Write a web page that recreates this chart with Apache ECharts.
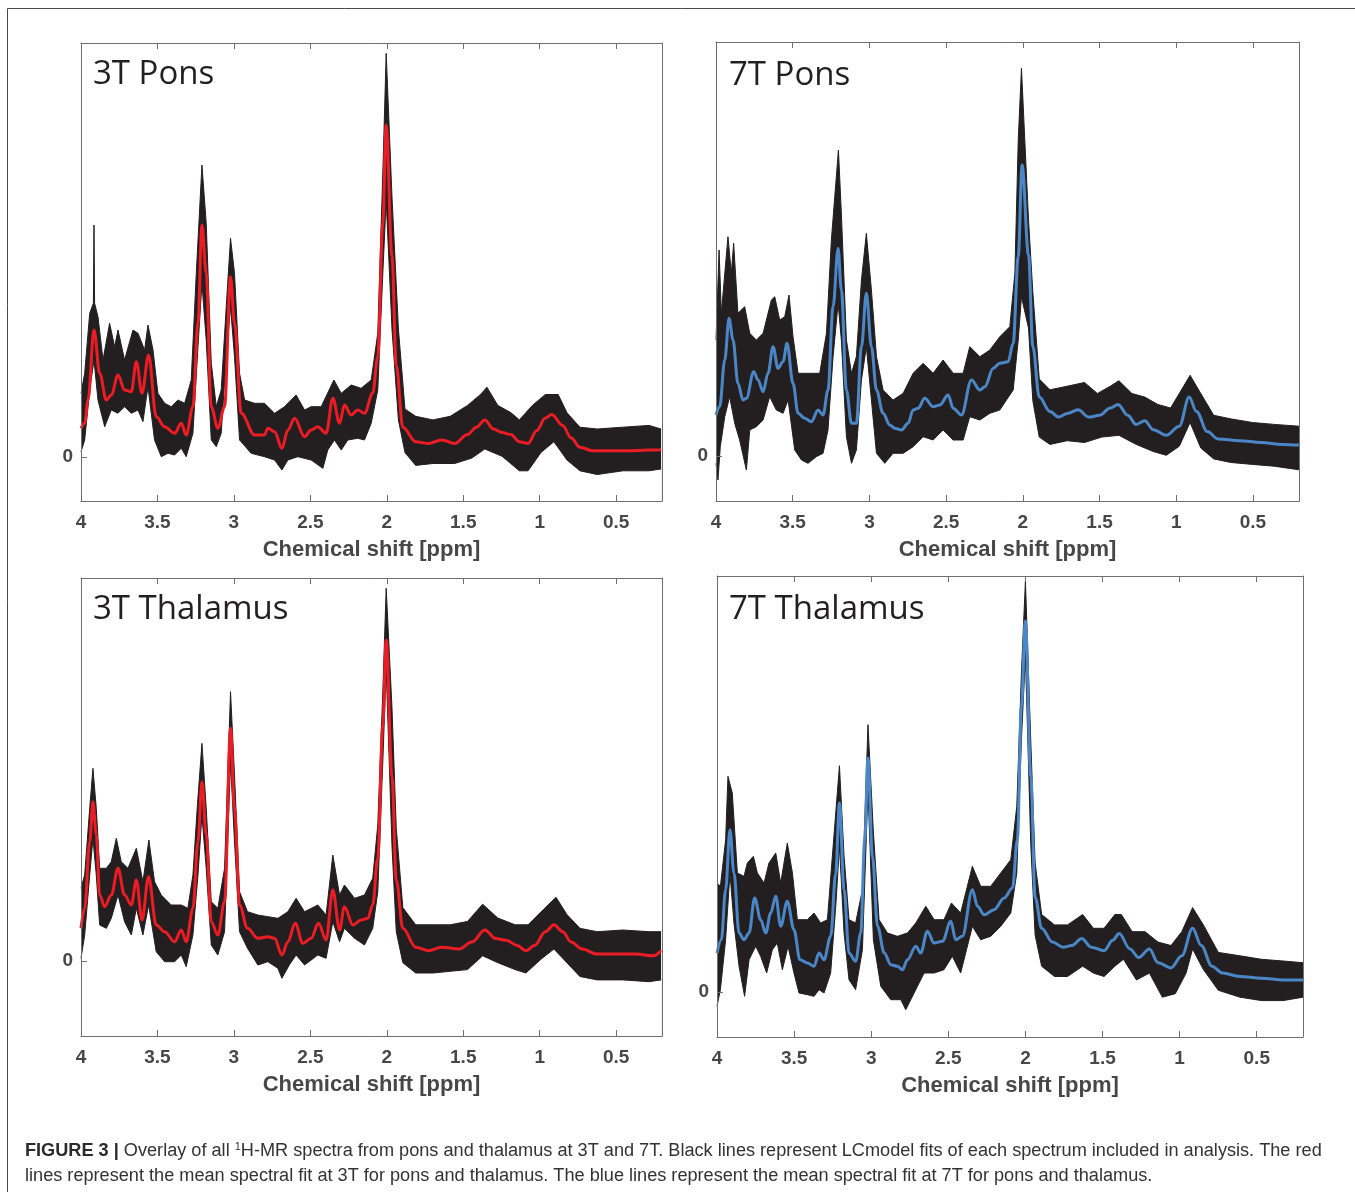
<!DOCTYPE html>
<html>
<head>
<meta charset="utf-8">
<script src="https://cdn.jsdelivr.net/npm/echarts@6/dist/echarts.min.js"></script>
<style>
html,body{margin:0;padding:0;background:#fff;}
#c{width:1355px;height:1192px;}
</style>
</head>
<body>
<div id="c"></div>
<script>
// ---------- DATA (ppm, intensity in arbitrary units) ----------
const X_TICKS = [4, 3.5, 3, 2.5, 2, 1.5, 1, 0.5];
const TITLES = ['3T Pons', '7T Pons', '3T Thalamus', '7T Thalamus'];
const AXIS_NAME = 'Chemical shift [ppm]';

// 3T Pons
const P1_MEAN = [[4.00,28.7],[3.976,33.7],[3.954,57],[3.915,127],[3.878,83.7],[3.834,57],[3.802,62],[3.758,82],[3.715,67],[3.671,65.3],[3.638,95.3],[3.601,63.7],[3.558,102],[3.508,40.3],[3.453,30.3],[3.388,23.7],[3.344,33.7],[3.312,22],[3.268,50.3],[3.235,133.7],[3.209,232],[3.181,183.7],[3.148,50.3],[3.105,28.7],[3.061,50.3],[3.022,180.3],[2.996,133.7],[2.952,43.7],[2.865,22],[2.800,22],[2.778,28.7],[2.734,25.3],[2.686,8.7],[2.647,27],[2.603,38.7],[2.538,20.3],[2.495,27],[2.451,30.3],[2.397,23.7],[2.353,58.7],[2.309,33.7],[2.277,52],[2.233,42],[2.190,47],[2.146,43.7],[2.092,63.7],[2.059,100.3],[2.026,233.7],[2.004,332],[1.966,200.7],[1.938,91.6],[1.895,29.8],[1.811,15.3],[1.726,13.5],[1.641,17.1],[1.556,13.5],[1.472,22.5],[1.415,29.8],[1.359,37.1],[1.302,28],[1.246,24.4],[1.189,22.5],[1.133,15.3],[1.076,13.5],[1.020,26.2],[0.963,38.9],[0.921,42.5],[0.850,31.6],[0.794,18.9],[0.737,9.8],[0.653,6.2],[0.568,6.2],[0.427,6.2],[0.285,6.9],[0.206,7.3]];
const P1_UP = [[4.00,63.7],[3.976,83.7],[3.943,143.7],[3.919,153.7],[3.915,232],[3.911,153.7],[3.889,140.3],[3.856,97],[3.813,133.7],[3.780,110.3],[3.758,127],[3.715,97],[3.660,127],[3.627,123.7],[3.584,107],[3.562,132],[3.529,107],[3.497,63.7],[3.453,53.7],[3.410,50.3],[3.366,57],[3.322,53.7],[3.279,77],[3.246,183.7],[3.209,292],[3.181,233.7],[3.148,93.7],[3.115,50.3],[3.083,67],[3.050,150.3],[3.022,218.7],[2.996,183.7],[2.963,83.7],[2.930,57],[2.865,53.7],[2.800,53.7],[2.734,43.7],[2.669,50.3],[2.593,62],[2.538,47],[2.495,50.3],[2.429,50.3],[2.346,77],[2.298,63.7],[2.233,72],[2.168,68.7],[2.102,77],[2.059,123.7],[2.026,283.7],[2.004,403.7],[1.966,260],[1.924,128],[1.881,48],[1.811,40.7],[1.698,37.1],[1.585,40.7],[1.472,51.6],[1.387,62.5],[1.345,69.8],[1.274,51.6],[1.189,44.4],[1.133,37.1],[1.048,51.6],[0.963,62.5],[0.879,62.5],[0.822,44.4],[0.737,29.8],[0.624,28],[0.455,29.8],[0.285,31.6],[0.206,28]];
const P1_LO = [[4.00,5.3],[3.976,17],[3.943,67],[3.915,97],[3.889,57],[3.845,30.3],[3.802,47],[3.758,43.7],[3.715,50.3],[3.671,43.7],[3.627,47],[3.595,35.3],[3.562,70.3],[3.519,17],[3.475,0.3],[3.431,3.7],[3.388,2],[3.344,8.7],[3.312,0.3],[3.268,23.7],[3.235,110.3],[3.209,173.7],[3.181,117],[3.148,17],[3.115,10.3],[3.083,23.7],[3.050,100.3],[3.022,150.3],[2.996,100.3],[2.963,17],[2.887,3.7],[2.800,0.3],[2.734,-3],[2.686,-13],[2.647,-3],[2.582,0.3],[2.495,-3],[2.418,-11.3],[2.386,7],[2.342,17],[2.298,7],[2.255,17],[2.190,18.7],[2.146,17],[2.102,33.7],[2.059,67],[2.026,183.7],[2.004,257],[1.966,128],[1.924,37.1],[1.881,4.4],[1.811,-8.4],[1.698,-6.5],[1.556,-6.5],[1.444,-1.1],[1.359,8],[1.246,0.7],[1.133,-13.8],[1.076,-13.8],[0.992,4.4],[0.907,15.3],[0.822,-2.9],[0.737,-13.8],[0.624,-17.5],[0.455,-13.8],[0.285,-13.8],[0.206,-12]];

// 7T Pons
const P2_MEAN = [[4.00,41],[3.976,49.3],[3.943,96],[3.915,137.7],[3.889,116],[3.857,72.7],[3.824,56],[3.802,57.7],[3.754,84.3],[3.726,76],[3.693,64.3],[3.661,82.7],[3.628,109.3],[3.596,87.7],[3.563,94.3],[3.537,112.7],[3.498,72.7],[3.465,42.7],[3.422,37.7],[3.378,34.3],[3.335,46],[3.302,41],[3.270,66],[3.237,149.3],[3.204,207.7],[3.183,166],[3.150,66],[3.117,32.7],[3.085,32.7],[3.052,109.3],[3.020,162.7],[2.987,109.3],[2.954,66],[2.911,42.7],[2.867,31],[2.835,27.7],[2.791,26],[2.748,32.7],[2.715,46],[2.683,47.7],[2.639,57.7],[2.585,49.3],[2.541,51],[2.487,61],[2.454,47.7],[2.400,41],[2.335,76],[2.280,66],[2.248,69.3],[2.193,87.7],[2.150,92.7],[2.096,94.3],[2.063,112.7],[2.030,199.3],[2.005,291],[1.963,200.7],[1.935,109.8],[1.893,58.9],[1.823,44.4],[1.767,38.9],[1.711,42.5],[1.640,46.2],[1.570,38.9],[1.500,40.7],[1.430,48],[1.379,51.6],[1.317,40.7],[1.261,31.6],[1.205,35.3],[1.149,26.2],[1.065,20.7],[0.980,29.8],[0.916,58.9],[0.868,44.4],[0.798,24.4],[0.728,17.1],[0.587,15.3],[0.447,13.5],[0.306,11.6],[0.200,10.9]];
const P2_UP = [[4.00,116],[3.980,206],[3.965,142.7],[3.922,219.3],[3.900,182.7],[3.885,212.7],[3.857,142.7],[3.813,149.3],[3.780,122.7],[3.737,116],[3.693,122.7],[3.639,156],[3.617,159.3],[3.585,136],[3.552,139.3],[3.524,161],[3.498,119.3],[3.465,82.7],[3.378,82.7],[3.324,82.7],[3.280,122.7],[3.248,216],[3.202,306],[3.183,242.7],[3.150,116],[3.117,82.7],[3.085,99.3],[3.052,176],[3.020,222.7],[2.987,166],[2.954,99.3],[2.911,66],[2.846,56],[2.780,62.7],[2.715,82.7],[2.650,92.7],[2.585,82.7],[2.520,96],[2.454,82.7],[2.389,82.7],[2.346,109.3],[2.280,99.3],[2.215,106],[2.150,119.3],[2.085,129.3],[2.052,182.7],[2.030,316],[2.009,387.7],[1.963,236],[1.935,164],[1.893,77],[1.823,66.2],[1.711,69.8],[1.598,73.5],[1.514,62.5],[1.430,69.8],[1.374,75.3],[1.289,62.5],[1.205,58.9],[1.121,51.6],[1.037,48],[0.952,69.8],[0.910,80.7],[0.840,62.5],[0.756,40.7],[0.643,37.1],[0.503,33.5],[0.362,31.6],[0.200,29.8]];
const P2_LO = [[4.00,-7.3],[3.987,-24],[3.972,9.3],[3.943,39.3],[3.911,59.3],[3.878,32.7],[3.846,16],[3.802,-14],[3.780,26],[3.737,29.3],[3.693,36],[3.650,59.3],[3.607,46],[3.563,42.7],[3.530,56],[3.487,6],[3.443,-4],[3.400,-7.3],[3.346,-0.7],[3.302,2.7],[3.270,26],[3.237,99.3],[3.204,152.7],[3.183,116],[3.150,19.3],[3.117,-7.3],[3.085,6],[3.052,76],[3.020,109.3],[2.987,56],[2.954,2.7],[2.900,-7.3],[2.846,2.7],[2.780,2.7],[2.715,9.3],[2.650,19.3],[2.585,16],[2.520,26],[2.454,16],[2.389,16],[2.346,39.3],[2.280,36],[2.215,42.7],[2.150,46],[2.107,56],[2.063,66],[2.030,116],[2.009,159.3],[1.963,128],[1.935,55.3],[1.893,18.9],[1.823,11.6],[1.711,15.3],[1.598,13.5],[1.486,18.9],[1.374,20.7],[1.261,11.6],[1.149,4.4],[1.065,0.7],[0.980,9.8],[0.910,33.5],[0.840,8],[0.756,-2.9],[0.643,-6.5],[0.503,-8.4],[0.362,-10.2],[0.200,-13.8]];

// 3T Thalamus
const P3_MEAN = [[4.00,32.7],[3.976,52.7],[3.943,119.3],[3.922,159.3],[3.900,126],[3.878,66],[3.845,54.3],[3.802,66],[3.758,92.7],[3.715,66],[3.671,56],[3.638,81],[3.601,41],[3.558,84.3],[3.508,36],[3.453,29.3],[3.388,19.3],[3.344,31],[3.312,19.3],[3.268,52.7],[3.235,119.3],[3.209,179.3],[3.181,126],[3.148,39.3],[3.105,26],[3.061,59.3],[3.022,232.7],[2.996,152.7],[2.963,56],[2.911,32.7],[2.843,22.7],[2.778,24.3],[2.734,22.7],[2.686,6],[2.647,19.3],[2.599,37.7],[2.549,17.7],[2.495,22.7],[2.447,37.7],[2.397,21],[2.353,71],[2.309,31],[2.277,54.3],[2.222,36],[2.168,41],[2.124,42.7],[2.092,56],[2.059,102.7],[2.026,236],[2.004,321],[1.966,184],[1.938,81],[1.895,32.7],[1.811,13.8],[1.726,10.3],[1.641,13.8],[1.528,12],[1.444,18.9],[1.359,31],[1.288,22.4],[1.218,20.7],[1.147,15.5],[1.090,10.3],[1.034,15.5],[0.963,29.3],[0.907,36.2],[0.850,29.3],[0.794,18.9],[0.723,12],[0.624,6.9],[0.511,6.9],[0.370,6.9],[0.257,5.2],[0.206,10.3]];
const P3_UP = [[4.00,72.7],[3.976,86],[3.943,152.7],[3.922,192.7],[3.900,152.7],[3.878,92.7],[3.834,92.7],[3.802,99.3],[3.769,122.7],[3.737,99.3],[3.693,92.7],[3.638,112.7],[3.595,79.3],[3.556,121],[3.519,79.3],[3.475,66],[3.410,56],[3.344,56],[3.301,52.7],[3.268,86],[3.240,152.7],[3.209,217.7],[3.181,152.7],[3.148,59.3],[3.105,52.7],[3.061,92.7],[3.022,269.3],[2.996,186],[2.963,69.3],[2.911,49.3],[2.843,46],[2.778,44.3],[2.712,42.7],[2.647,49.3],[2.593,62.7],[2.538,49.3],[2.451,56],[2.397,46],[2.353,106],[2.309,66],[2.277,76],[2.211,62.7],[2.146,66],[2.092,82.7],[2.059,136],[2.026,269.3],[2.004,372.7],[1.966,253],[1.938,132.6],[1.895,53.4],[1.811,36.2],[1.698,36.2],[1.585,36.2],[1.472,39.6],[1.373,56.8],[1.274,43],[1.161,36.2],[1.076,36.2],[0.963,53.4],[0.893,63.7],[0.822,46.5],[0.737,32.7],[0.624,29.3],[0.455,31],[0.285,29.3],[0.206,29.3]];
const P3_LO = [[4.00,2.7],[3.976,26],[3.943,86],[3.922,122.7],[3.900,86],[3.878,36],[3.834,32.7],[3.802,42.7],[3.758,66],[3.715,39.3],[3.671,26],[3.638,52.7],[3.595,26],[3.558,56],[3.508,9.3],[3.453,-0.7],[3.388,-0.7],[3.344,6],[3.312,-5.7],[3.268,26],[3.235,86],[3.209,146],[3.181,92.7],[3.148,16],[3.105,6],[3.061,29.3],[3.022,199.3],[2.996,119.3],[2.963,29.3],[2.911,12.7],[2.843,-4],[2.778,-0.7],[2.712,-7.3],[2.686,-17.3],[2.638,-4],[2.593,6],[2.538,-4],[2.451,6],[2.397,2.7],[2.353,39.3],[2.309,19.3],[2.277,32.7],[2.211,22.7],[2.146,16],[2.092,32.7],[2.059,69.3],[2.026,199.3],[2.004,292.7],[1.966,115],[1.938,29.3],[1.895,-1.7],[1.811,-12],[1.698,-12],[1.585,-10.3],[1.472,-8.6],[1.373,5.2],[1.274,-1.7],[1.161,-8.6],[1.090,-12],[0.992,1.7],[0.907,12],[0.822,-1.7],[0.737,-15.5],[0.624,-18.9],[0.455,-18.9],[0.285,-20.7],[0.206,-18.9]];

// 7T Thalamus
const P4_MEAN = [[4.00,39],[3.972,52.3],[3.944,102.3],[3.916,162.3],[3.890,119],[3.857,59],[3.825,52.3],[3.792,59],[3.756,94],[3.717,72.3],[3.684,59],[3.652,79],[3.619,95.7],[3.587,65.7],[3.544,90.7],[3.501,62.3],[3.462,32.3],[3.414,29],[3.371,25.7],[3.338,39],[3.306,32.3],[3.263,55.7],[3.230,119],[3.206,189],[3.176,102.3],[3.144,39],[3.101,30.7],[3.068,59],[3.042,152.3],[3.021,234],[2.992,135.7],[2.959,65.7],[2.915,39],[2.873,27.3],[2.830,25.7],[2.798,22.3],[2.765,32.3],[2.711,45.7],[2.679,39],[2.636,60.7],[2.592,49],[2.538,50.7],[2.484,70.7],[2.452,52.3],[2.409,55.7],[2.344,102.3],[2.311,85.7],[2.268,77.3],[2.203,82.3],[2.138,94],[2.084,104],[2.052,152.3],[2.026,285.7],[2.000,371],[1.965,215],[1.937,94.7],[1.895,63.7],[1.825,50],[1.755,44.8],[1.699,46.5],[1.635,53.4],[1.573,44.8],[1.490,41.3],[1.434,51.7],[1.392,58.5],[1.322,43],[1.266,34.4],[1.196,43],[1.140,29.3],[1.056,24.1],[0.986,36.2],[0.916,63.7],[0.860,46.5],[0.791,25.8],[0.721,18.9],[0.609,15.5],[0.469,13.8],[0.329,12],[0.200,12]];
const P4_UP = [[4.00,109],[3.978,105.7],[3.944,152.3],[3.929,215.7],[3.901,199],[3.868,119],[3.825,115.7],[3.803,129],[3.764,135.7],[3.738,119],[3.695,109],[3.663,129],[3.619,139],[3.587,109],[3.544,149],[3.511,119],[3.479,72.3],[3.414,72.3],[3.371,79],[3.328,69],[3.284,72.3],[3.252,135.7],[3.206,226.3],[3.176,135.7],[3.144,72.3],[3.101,69],[3.057,102.3],[3.021,267.3],[2.986,160],[2.949,72.3],[2.895,59],[2.830,55.7],[2.765,59],[2.711,69],[2.646,85.7],[2.592,72.3],[2.528,72.3],[2.480,89],[2.420,79],[2.344,125.7],[2.290,105.7],[2.225,105.7],[2.160,119],[2.095,132.3],[2.056,185.7],[2.026,319],[2.000,410.7],[1.965,249.7],[1.937,129],[1.895,77.5],[1.811,67.1],[1.727,67.1],[1.629,77.5],[1.559,63.7],[1.490,63.7],[1.420,77.5],[1.378,77.5],[1.308,60.3],[1.224,60.3],[1.140,49.9],[1.056,46.5],[0.986,60.3],[0.916,84.4],[0.846,67.1],[0.749,39.6],[0.609,36.2],[0.469,32.7],[0.329,31],[0.200,29.3]];
const P4_LO = [[4.00,-14.3],[3.978,2.3],[3.944,52.3],[3.916,119],[3.890,69],[3.857,25.7],[3.821,-4.3],[3.792,32.3],[3.749,45.7],[3.717,35.7],[3.678,19],[3.641,42.3],[3.609,49],[3.576,22.3],[3.539,45.7],[3.501,19],[3.468,-1],[3.414,-2.7],[3.371,-4.3],[3.338,2.3],[3.306,-1],[3.263,19],[3.230,85.7],[3.206,145.7],[3.176,59],[3.144,12.3],[3.101,2.3],[3.057,42.3],[3.021,202.3],[2.986,52.3],[2.938,5.7],[2.873,-7.7],[2.808,-7.7],[2.776,-17.7],[2.722,-1],[2.657,19],[2.592,19],[2.528,22.3],[2.474,35.7],[2.420,19],[2.344,65.7],[2.290,52.3],[2.225,55.7],[2.160,65.7],[2.095,79],[2.056,119],[2.026,252.3],[2.000,335.7],[1.965,146.3],[1.937,56.8],[1.895,25.8],[1.811,15.5],[1.727,15.5],[1.629,25.8],[1.559,18.9],[1.490,15.5],[1.420,25.8],[1.364,32.7],[1.280,12],[1.196,18.9],[1.112,-5.2],[1.028,-1.7],[0.958,18.9],[0.916,43],[0.846,22.4],[0.749,1.7],[0.609,-5.2],[0.469,-8.6],[0.329,-8.6],[0.200,-5.2]];

// ---------- STYLE / LAYOUT ----------
const BLACK = '#231f20', RED = '#ec1c24', BLUE = '#4b87c6', BOX = '#6f6f6f', TXT = '#474747';
const PANELS = [
  {grid:{left:81, top:43, width:581, height:458}, y:[-44,414], mean:P1_MEAN, up:P1_UP, lo:P1_LO, color:RED, title:[93,75]},
  {grid:{left:716, top:42, width:583, height:459}, y:[-45,414], mean:P2_MEAN, up:P2_UP, lo:P2_LO, color:BLUE, title:[729,76]},
  {grid:{left:81, top:578, width:581, height:458}, y:[-75,383], mean:P3_MEAN, up:P3_UP, lo:P3_LO, color:RED, title:[93,610]},
  {grid:{left:717, top:576, width:586, height:461}, y:[-45,416], mean:P4_MEAN, up:P4_UP, lo:P4_LO, color:BLUE, title:[729,610]}
];

const grids = [], xAxes = [], yAxes = [], series = [], graphics = [];
PANELS.forEach((p, i) => {
  grids.push(p.grid);
  const tickStyle = {show:true, inside:true, length:6, lineStyle:{color:BOX, width:1}};
  xAxes.push({
    type:'value', gridIndex:i, min:0.2, max:4, inverse:true, position:'bottom', z:10,
    axisLine:{show:true, onZero:false, lineStyle:{color:BOX, width:1}},
    axisTick:Object.assign({customValues:X_TICKS}, tickStyle),
    axisLabel:{customValues:X_TICKS, margin:12, color:TXT, fontWeight:'bold', fontSize:19, fontFamily:'Liberation Sans, Arial, sans-serif', formatter:v => String(v)},
    splitLine:{show:false},
    name:AXIS_NAME, nameLocation:'middle', nameGap:38,
    nameTextStyle:{color:TXT, fontWeight:'bold', fontSize:22, fontFamily:'Liberation Sans, Arial, sans-serif'}
  });
  xAxes.push({
    type:'value', gridIndex:i, min:0.2, max:4, inverse:true, position:'top', z:10,
    axisLine:{show:true, onZero:false, lineStyle:{color:BOX, width:1}},
    axisTick:Object.assign({customValues:X_TICKS}, tickStyle),
    axisLabel:{show:false}, splitLine:{show:false}
  });
  yAxes.push({
    type:'value', gridIndex:i, min:p.y[0], max:p.y[1], position:'left', z:10,
    axisLine:{show:true, onZero:false, lineStyle:{color:BOX, width:1}},
    axisTick:Object.assign({customValues:[0]}, tickStyle),
    axisLabel:{customValues:[0], margin:8, color:TXT, fontWeight:'bold', fontSize:19, fontFamily:'Liberation Sans, Arial, sans-serif'},
    splitLine:{show:false}
  });
  yAxes.push({
    type:'value', gridIndex:i, min:p.y[0], max:p.y[1], position:'right', z:10,
    axisLine:{show:true, onZero:false, lineStyle:{color:BOX, width:1}},
    axisTick:{show:false}, axisLabel:{show:false}, splitLine:{show:false}
  });
  // envelope of all individual fits: black above the upper bound, white below the lower bound
  series.push({
    type:'line', xAxisIndex:2*i, yAxisIndex:2*i, data:p.up, showSymbol:false, z:2,
    lineStyle:{color:BLACK, width:1}, areaStyle:{color:BLACK, opacity:1, origin:'start'}
  });
  series.push({
    type:'line', xAxisIndex:2*i, yAxisIndex:2*i, data:p.lo, showSymbol:false, z:3,
    lineStyle:{color:BLACK, width:1}, areaStyle:{color:'#ffffff', opacity:1, origin:'start'}
  });
  series.push({
    type:'line', xAxisIndex:2*i, yAxisIndex:2*i, data:p.mean, showSymbol:false, z:4,
    smooth:0.35, smoothMonotone:'x',
    lineStyle:{color:p.color, width:3}
  });
  graphics.push({
    type:'text', x:p.title[0], y:p.title[1], z:20,
    style:{text:TITLES[i], fill:BLACK, fontSize:33, fontFamily:'Open Sans, Noto Sans, sans-serif', fontWeight:'normal', align:'left', verticalAlign:'middle'}
  });
});

// outer figure frame
graphics.push({type:'rect', z:0, shape:{x:7.5, y:8.5, width:1400, height:1300}, style:{fill:'none', stroke:'#4a4a4a', lineWidth:1}});

// caption
const CAPTION_1 = '{b|FIGURE 3 |} Overlay of all {s|1}H-MR spectra from pons and thalamus at 3T and 7T. Black lines represent LCmodel fits of each spectrum included in analysis. The red';
const CAPTION_2 = 'lines represent the mean spectral fit at 3T for pons and thalamus. The blue lines represent the mean spectral fit at 7T for pons and thalamus.';
const CAP_FONT = 'Liberation Sans, Arial, sans-serif';
const capRich = {
  b:{fontWeight:'bold', fontSize:18.15, fontFamily:CAP_FONT, fill:'#2b2b2b'},
  s:{fontSize:11, fontFamily:CAP_FONT, fill:'#333', verticalAlign:'top', lineHeight:20}
};
graphics.push({type:'text', x:25, y:1151, z:20, style:{text:CAPTION_1, rich:capRich, fill:'#333', fontSize:18.15, fontFamily:CAP_FONT, verticalAlign:'middle', lineHeight:20}});
graphics.push({type:'text', x:25, y:1176, z:20, style:{text:CAPTION_2, fill:'#333', fontSize:18.15, fontFamily:CAP_FONT, verticalAlign:'middle'}});

const chart = echarts.init(document.getElementById('c'), null, {renderer:'canvas'});
chart.setOption({
  animation:false,
  backgroundColor:'#ffffff',
  grid:grids, xAxis:xAxes, yAxis:yAxes, series:series, graphic:graphics
});
</script>
</body>
</html>
